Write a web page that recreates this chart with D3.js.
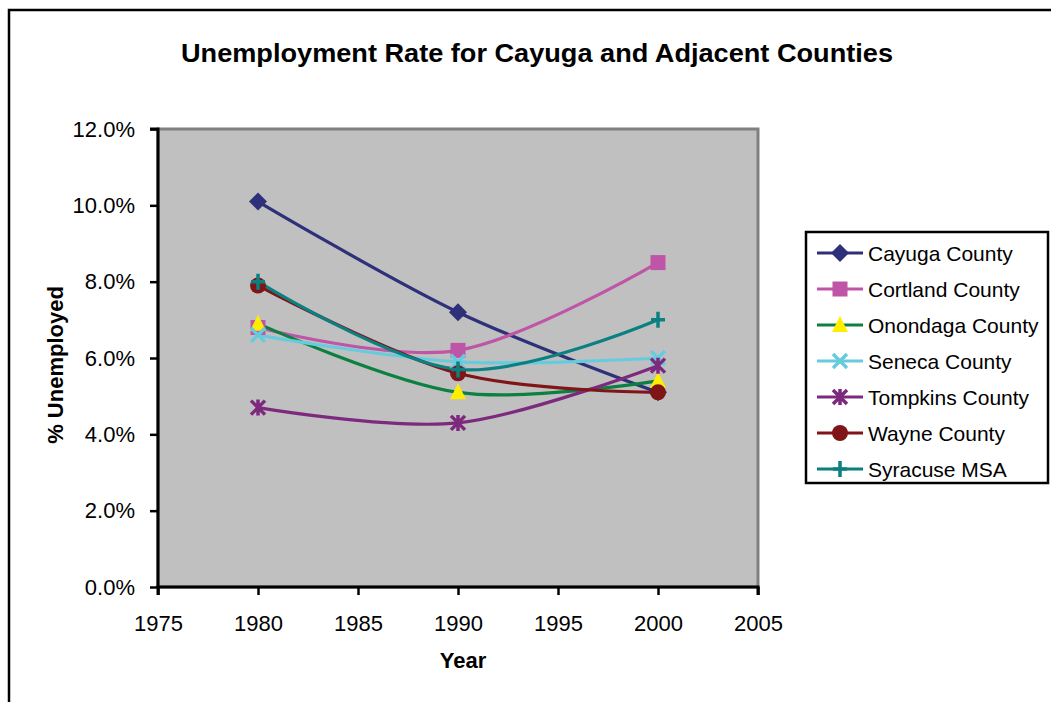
<!DOCTYPE html>
<html>
<head>
<meta charset="utf-8">
<script src="https://cdn.jsdelivr.net/npm/d3@7"></script>
<style>
  body { margin: 0; background: #fff; }
  svg { display: block; font-family: "Liberation Sans", Arial, sans-serif; }
</style>
</head>
<body>
<svg id="chart" width="1051" height="702"></svg>
<script>
// data
const years = [1980, 1990, 2000];
const seriesNames = ["Cayuga County", "Cortland County", "Onondaga County", "Seneca County",
  "Tompkins County", "Wayne County", "Syracuse MSA"];
const cayuga = [10.1, 7.2, 5.1];
const cortland = [6.8, 6.2, 8.5];
const onondaga = [6.9, 5.1, 5.4];
const seneca = [6.6, 5.9, 6.0];
const tompkins = [4.7, 4.3, 5.8];
const wayne = [7.9, 5.6, 5.1];
const syracuse = [8.0, 5.7, 7.0];
const yTicks = [0, 2, 4, 6, 8, 10, 12];
const xTicks = [1975, 1980, 1985, 1990, 1995, 2000, 2005];

const series = [
  { name: seriesNames[0], values: cayuga, color: "#2e3079", marker: "diamond", fill: "#2e3079" },
  { name: seriesNames[1], values: cortland, color: "#bf55a6", marker: "square", fill: "#bf55a6" },
  { name: seriesNames[2], values: onondaga, color: "#0b8040", marker: "triangle", fill: "#ffee00" },
  { name: seriesNames[3], values: seneca, color: "#66ccdd", marker: "x", fill: "#66ccdd" },
  { name: seriesNames[4], values: tompkins, color: "#7d2a7e", marker: "star", fill: "#7d2a7e" },
  { name: seriesNames[5], values: wayne, color: "#801518", marker: "circle", fill: "#801518" },
  { name: seriesNames[6], values: syracuse, color: "#0b8080", marker: "plus", fill: "#0b8080" }
];

const svg = d3.select("#chart");
const pLeft = 158, pRight = 758, pTop = 129, pBottom = 587;

const x = d3.scaleLinear().domain([1975, 2005]).range([pLeft, pRight]);
const y = d3.scaleLinear().domain([0, 12]).range([pBottom, pTop]);

// outer chart border (runs off the right/bottom of the picture)
svg.append("rect")
  .attr("x", 9).attr("y", 10).attr("width", 1080).attr("height", 720)
  .attr("fill", "#fff").attr("stroke", "#000").attr("stroke-width", 2.5);

svg.append("text")
  .attr("x", 537).attr("y", 62)
  .attr("text-anchor", "middle")
  .attr("font-size", 26).attr("font-weight", "bold")
  .attr("textLength", 712).attr("lengthAdjust", "spacingAndGlyphs")
  .text("Unemployment Rate for Cayuga and Adjacent Counties");

// plot area
svg.append("rect")
  .attr("x", pLeft).attr("y", pTop)
  .attr("width", pRight - pLeft).attr("height", pBottom - pTop)
  .attr("fill", "#c0c0c0").attr("stroke", "#808080").attr("stroke-width", 3);

const yAxis = svg.append("g")
  .attr("transform", `translate(${pLeft},0)`)
  .call(d3.axisLeft(y).tickValues(yTicks).tickSize(8).tickPadding(15)
    .tickFormat(d => d3.format(".1f")(d) + "%"));
const xAxis = svg.append("g")
  .attr("transform", `translate(0,${pBottom})`)
  .call(d3.axisBottom(x).tickValues(xTicks).tickSize(8).tickPadding(20)
    .tickFormat(d3.format("d")));

[yAxis, xAxis].forEach(g => {
  g.select(".domain").attr("stroke", "#000").attr("stroke-width", 3);
  g.selectAll(".tick line").attr("stroke", "#000").attr("stroke-width", 2.5);
  g.selectAll(".tick text").attr("font-size", 22).attr("fill", "#000")
    .attr("font-family", "'Liberation Sans', Arial, sans-serif");
});
yAxis.select(".domain").attr("d", `M-8,${pTop}H0V${pBottom}`);
xAxis.select(".domain").attr("d", `M${pLeft},8V0H${pRight}V8`);

svg.append("text")
  .attr("x", 463).attr("y", 668)
  .attr("text-anchor", "middle")
  .attr("font-size", 22).attr("font-weight", "bold")
  .text("Year");

svg.append("text")
  .attr("transform", "translate(63,365) rotate(-90)")
  .attr("text-anchor", "middle")
  .attr("font-size", 22).attr("font-weight", "bold")
  .text("% Unemployed");

const line = d3.line()
  .x((d, i) => x(years[i]))
  .y(d => y(d))
  .curve(d3.curveCardinal.tension(0));

function drawMarker(g, s) {
  const c = s.color, f = s.fill;
  switch (s.marker) {
    case "diamond":
      g.append("path").attr("d", "M0,-9L9,0L0,9L-9,0Z").attr("fill", f);
      break;
    case "square":
      g.append("rect").attr("x", -7.5).attr("y", -7.5).attr("width", 15).attr("height", 15).attr("fill", f);
      break;
    case "triangle":
      g.append("path").attr("d", "M0,-9L8,7L-8,7Z").attr("fill", f);
      break;
    case "x":
      g.append("path").attr("d", "M-7,-7L7,7M-7,7L7,-7").attr("stroke", c).attr("stroke-width", 3.5);
      break;
    case "star":
      g.append("path").attr("d", "M-7,-7L7,7M-7,7L7,-7M0,-8V8").attr("stroke", c).attr("stroke-width", 3.5);
      break;
    case "circle":
      g.append("circle").attr("r", 8).attr("fill", f);
      break;
    case "plus":
      g.append("path").attr("d", "M-7,0H7M0,-8V8").attr("stroke", c).attr("stroke-width", 3.5);
      break;
  }
}

const plot = svg.append("g");
series.forEach(s => {
  plot.append("path")
    .attr("d", line(s.values))
    .attr("fill", "none")
    .attr("stroke", s.color)
    .attr("stroke-width", 3.2);
});
series.forEach(s => {
  s.values.forEach((v, i) => {
    const g = plot.append("g").attr("transform", `translate(${x(years[i])},${y(v)})`);
    drawMarker(g, s);
  });
});

// legend
const legend = svg.append("g");
legend.append("rect")
  .attr("x", 806).attr("y", 232).attr("width", 242).attr("height", 251)
  .attr("fill", "#fff").attr("stroke", "#000").attr("stroke-width", 2.5);
series.forEach((s, i) => {
  const ly = 253 + i * 36;
  legend.append("line")
    .attr("x1", 817).attr("x2", 863).attr("y1", ly).attr("y2", ly)
    .attr("stroke", s.color).attr("stroke-width", 3.2);
  drawMarker(legend.append("g").attr("transform", `translate(840,${ly})`), s);
  legend.append("text")
    .attr("x", 868).attr("y", ly + 8)
    .attr("font-size", 21)
    .text(s.name);
});
</script>
</body>
</html>
